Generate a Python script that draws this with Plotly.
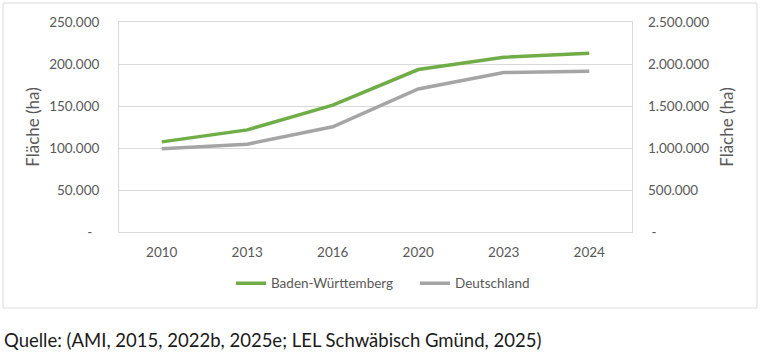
import plotly.graph_objects as go

years = ["2010", "2013", "2016", "2020", "2023", "2024"]
bw_values = [107300, 121600, 151000, 193400, 208000, 212800]
de_values = [990000, 1046000, 1252000, 1703000, 1898000, 1914000]

left_tickvals = [0, 50000, 100000, 150000, 200000, 250000]
left_ticktext = ["-\u00a0\u00a0", "50.000", "100.000", "150.000", "200.000", "250.000"]
right_tickvals = [0, 500000, 1000000, 1500000, 2000000, 2500000]
right_ticktext = ["\u00a0-", "500.000", "1.000.000", "1.500.000", "2.000.000", "2.500.000"]

FONT = "Lato"
TICKC = "#595959"
GRID = "#D9D9D9"

fig = go.Figure()
fig.add_trace(go.Scatter(x=years, y=bw_values, name="Baden-Württemberg", mode="lines",
                         line=dict(color="#70AD47", width=3.5), yaxis="y"))
fig.add_trace(go.Scatter(x=years, y=de_values, name="Deutschland", mode="lines",
                         line=dict(color="#A5A5A5", width=3.5), yaxis="y2"))

fig.update_layout(
    width=762, height=362,
    margin=dict(l=119, r=130, t=22, b=130, autoexpand=False),
    paper_bgcolor="white", plot_bgcolor="white",
    font=dict(family=FONT, size=13.5, color=TICKC),
    showlegend=True,
    legend=dict(orientation="h", x=0.577, xanchor="center", y=-0.245, yanchor="middle",
                font=dict(family=FONT, size=13.5, color=TICKC), itemwidth=30,
                entrywidth=139, tracegroupgap=0),
    xaxis=dict(type="category", range=[-0.5, 5.5], showgrid=False,
               showline=True, linecolor=GRID, linewidth=1, mirror=True,
               ticks="", ticklabelstandoff=8, tickfont=dict(size=13.5, color=TICKC)),
    yaxis=dict(range=[0, 250000], tickvals=left_tickvals, ticktext=left_ticktext,
               showgrid=True, gridcolor=GRID, gridwidth=1, zeroline=False,
               showline=True, linecolor=GRID, linewidth=1, mirror=True,
               ticks="", ticklabelstandoff=16, tickfont=dict(size=13.5, color=TICKC),
               title=dict(text="Fläche (ha)", font=dict(size=17, color=TICKC), standoff=5)),
    yaxis2=dict(range=[0, 2500000], tickvals=right_tickvals, ticktext=right_ticktext,
                overlaying="y", side="right", showgrid=False, zeroline=False,
                showline=False, ticks="", ticklabelstandoff=15,
                tickfont=dict(size=13.5, color=TICKC),
                title=dict(text="Fläche (ha)", font=dict(size=17, color=TICKC), standoff=12)),
    shapes=[dict(type="rect", xref="paper", yref="paper",
                 x0=(3 - 119) / 513, x1=(757 - 119) / 513,
                 y0=(232 - 308) / 210, y1=(232 - 3) / 210,
                 line=dict(color="#D9D9D9", width=1), fillcolor="rgba(0,0,0,0)", layer="below")],
    annotations=[dict(text="Quelle: (AMI, 2015, 2022b, 2025e; LEL Schwäbisch Gmünd, 2025)",
                      xref="paper", yref="paper", x=(2 - 119) / 513, y=(232 - 340) / 210,
                      xanchor="left", yanchor="middle", showarrow=False,
                      font=dict(family=FONT, size=18.5, color="#1a1a1a"))],
)

fig.write_html("out.html", config={"displayModeBar": False},
               post_script="document.body.style.margin='0';document.body.style.overflow='hidden';")
